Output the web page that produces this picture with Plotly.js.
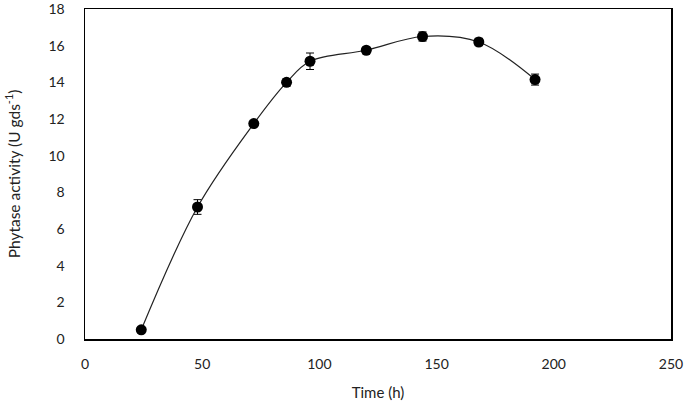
<!DOCTYPE html>
<html>
<head>
<meta charset="utf-8">
<script src="https://cdn.plot.ly/plotly-3.0.1.min.js"></script>
<style>html,body{margin:0;padding:0;background:#fff;}#chart{width:685px;height:405px;}</style>
</head>
<body>
<div id="chart"></div>
<script>
const timeH = [24, 48, 72, 86, 96, 120, 144, 168, 192];
const phytase = [0.5, 7.2, 11.75, 14.0, 15.15, 15.75, 16.5, 16.2, 14.15];
const errs = [0.1, 0.4, 0.15, 0.2, 0.45, 0.15, 0.25, 0.2, 0.3];
const xTicks = [0, 50, 100, 150, 200, 250];
const yTicks = [0, 2, 4, 6, 8, 10, 12, 14, 16, 18];

const fontFam = 'Lato, "Open Sans", sans-serif';
const trace = {
  x: timeH, y: phytase, type: 'scatter', mode: 'lines+markers',
  line: {shape: 'spline', smoothing: 1, color: '#222', width: 1.2},
  marker: {symbol: 'circle', size: 11, color: '#000'},
  error_y: {type: 'data', array: errs, visible: true, color: '#000', thickness: 1, width: 4}
};
const layout = {
  width: 685, height: 405,
  margin: {l: 85, r: 14, t: 9, b: 66},
  paper_bgcolor: '#fff', plot_bgcolor: '#fff',
  showlegend: false,
  font: {family: fontFam, size: 14, color: '#222'},
  xaxis: {
    range: [0, 250], tickvals: xTicks, ticktext: xTicks.map(String),
    showgrid: false, zeroline: false, showline: true, mirror: true,
    linecolor: '#000', linewidth: 1.5,
    ticks: 'outside', ticklen: 12, tickcolor: 'rgba(0,0,0,0)',
    ticklabeloverflow: 'allow',
    tickfont: {family: fontFam, size: 14, color: '#222'},
    title: {text: 'Time (h)', standoff: 16, font: {family: fontFam, size: 15, color: '#222'}}
  },
  yaxis: {
    range: [0, 18], tickvals: yTicks, ticktext: yTicks.map(String),
    showgrid: false, zeroline: false, showline: true, mirror: true,
    linecolor: '#000', linewidth: 1.5,
    ticks: 'outside', ticklen: 16, tickcolor: 'rgba(0,0,0,0)',
    ticklabeloverflow: 'allow',
    tickfont: {family: fontFam, size: 14, color: '#222'},
    title: {text: 'Phytase activity (U gds<sup>-1</sup>)', standoff: 24, font: {family: fontFam, size: 15.5, color: '#222'}}
  }
};
Plotly.newPlot('chart', [trace], layout, {displayModeBar: false, staticPlot: true});
</script>
</body>
</html>
